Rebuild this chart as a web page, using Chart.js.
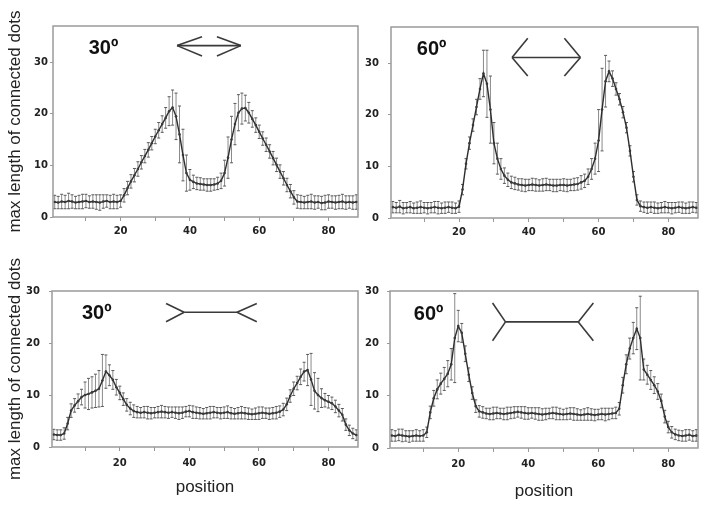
<!DOCTYPE html>
<html>
<head>
<meta charset="utf-8">
<script src="https://cdn.jsdelivr.net/npm/chart.js@4.4.1/dist/chart.umd.min.js"></script>
<style>
  html, body { margin: 0; padding: 0; background: #fff; }
  #wrap { position: relative; width: 706px; height: 506px; overflow: hidden; }
  canvas { position: absolute; }
</style>
</head>
<body>
<div id="wrap">
  <canvas id="c1" width="362" height="240" style="left:0;top:0"></canvas>
  <canvas id="c2" width="340" height="240" style="left:362px;top:0"></canvas>
  <canvas id="c3" width="362" height="266" style="left:0;top:240px"></canvas>
  <canvas id="c4" width="340" height="266" style="left:362px;top:240px"></canvas>
</div>
<script>
// positions along the figure (1..89)
const positions = Array.from({ length: 89 }, (_, i) => i + 1);

// top left: 30 deg, arrow heads
const arrow30Mean = [2.9,2.8,3.0,2.9,3.1,3.0,2.8,2.9,3.0,3.1,2.9,3.0,2.9,2.8,3.0,3.1,2.9,3.0,2.9,3.1,
  4.2,5.6,6.9,8.1,9.3,10.6,11.8,13.0,14.3,15.6,16.8,18.0,19.2,20.5,21.2,
  19.5,16.0,12.0,8.5,7.2,
  6.8,6.5,6.4,6.3,6.2,6.2,6.3,6.5,7.0,
  8.5,11.5,15.0,18.0,20.2,21.0,21.1,
  20.2,19.0,17.8,16.5,15.2,14.0,12.7,11.4,10.1,8.8,7.5,6.2,5.0,3.8,3.0,
  2.9,2.8,2.9,3.0,2.8,2.9,2.7,2.8,3.0,2.9,2.8,2.9,3.0,2.8,2.9,2.8,2.9,3.0];
const arrow30Err = [1.3,1.2,1.4,1.3,1.5,1.3,1.2,1.3,1.4,1.3,1.2,1.3,1.4,1.5,1.3,1.2,1.3,1.4,1.3,1.2,
  1.3,1.3,1.3,1.3,1.4,1.3,1.3,1.4,1.3,1.4,1.5,1.6,2.0,2.8,3.4,
  4.5,5.5,5.0,3.5,2.0,
  1.3,1.2,1.2,1.1,1.2,1.2,1.1,1.2,1.5,
  2.5,4.0,4.5,4.0,3.5,3.0,2.5,
  2.0,1.6,1.4,1.3,1.3,1.3,1.3,1.3,1.3,1.3,1.3,1.3,1.3,1.3,1.3,
  1.3,1.2,1.3,1.4,1.3,1.2,1.3,1.4,1.3,1.2,1.3,1.3,1.4,1.3,1.2,1.3,1.4,1.3];

// top right: 60 deg, arrow heads
const arrow60Mean = [2.1,2.0,2.2,1.9,2.0,2.1,1.9,2.0,2.1,2.0,1.9,2.0,2.1,2.0,1.9,2.0,2.1,2.0,1.9,2.2,
  5.5,10.5,14.5,18.0,21.5,25.0,28.0,26.0,21.0,14.5,11.5,9.5,8.2,7.4,6.9,
  6.7,6.5,6.4,6.3,6.4,6.5,6.4,6.3,6.4,6.5,6.4,6.3,6.3,6.4,6.4,6.3,6.4,6.5,6.6,6.9,
  7.2,8.0,9.5,11.5,15.0,21.0,26.5,28.4,27.0,25.0,23.0,20.5,17.5,13.0,8.0,3.5,2.3,
  2.1,2.0,2.1,2.0,1.9,2.0,2.1,2.0,1.9,2.0,2.1,2.0,1.9,2.0,2.1,2.0,2.0];
const arrow60Err = [1.1,1.0,1.2,1.1,1.0,1.1,1.0,1.1,1.2,1.0,1.1,1.0,1.1,1.2,1.0,1.1,1.0,1.1,1.0,1.1,
  1.0,1.0,1.2,1.2,1.5,2.0,4.5,6.5,6.5,4.0,3.0,2.0,1.5,1.3,1.2,
  1.2,1.1,1.2,1.2,1.1,1.2,1.2,1.1,1.2,1.2,1.1,1.2,1.2,1.1,1.2,1.2,1.1,1.2,1.2,1.3,
  1.3,1.5,2.0,3.0,6.0,8.0,5.0,2.0,1.5,1.2,1.1,1.1,1.0,1.0,1.0,1.0,1.0,
  1.0,1.1,1.0,1.1,1.0,1.0,1.1,1.0,1.1,1.0,1.0,1.1,1.0,1.1,1.0,1.0,1.1];

// bottom left: 30 deg, fins
const fin30Mean = [2.4,2.3,2.3,2.6,4.5,7.0,8.0,8.8,9.6,10.0,10.2,10.5,10.8,11.2,12.8,14.5,13.8,12.9,11.5,10.4,9.2,8.1,7.4,6.9,
  6.7,6.6,6.7,6.6,6.5,6.6,6.7,6.8,6.7,6.6,6.7,6.6,6.5,6.6,6.8,6.9,6.7,6.6,6.5,6.4,
  6.5,6.6,6.7,6.6,6.5,6.6,6.7,6.5,6.4,6.5,6.6,6.5,6.4,6.3,6.4,6.5,6.6,6.5,6.4,6.5,6.6,6.8,
  7.2,8.2,9.8,11.2,12.3,13.5,14.5,14.8,13.0,10.8,10.0,9.4,9.0,8.7,8.4,7.8,7.0,6.2,4.3,3.2,2.6,2.3,2.2];
const fin30Err = [1.0,1.0,1.0,1.1,1.2,1.3,1.3,1.4,1.5,2.5,3.0,3.0,3.2,3.5,5.0,3.2,2.0,1.8,1.5,1.3,1.2,1.2,1.2,1.2,
  1.1,1.0,1.1,1.2,1.1,1.0,1.1,1.2,1.1,1.1,1.0,1.1,1.2,1.1,1.0,1.1,1.2,1.1,1.1,1.0,
  1.1,1.2,1.1,1.0,1.1,1.1,1.2,1.1,1.0,1.1,1.2,1.1,1.1,1.0,1.1,1.2,1.1,1.0,1.1,1.1,1.2,1.1,
  1.2,1.2,1.2,1.3,1.3,1.5,1.8,3.0,5.0,3.5,3.2,1.8,1.3,1.2,1.2,1.2,1.2,1.2,1.1,1.0,1.0,1.0,1.0];

// bottom right: 60 deg, fins
const fin60Mean = [2.4,2.3,2.5,2.4,2.3,2.2,2.3,2.4,2.3,2.4,
  3.0,6.8,9.5,11.2,12.3,13.2,14.2,16.0,21.0,23.3,22.0,18.0,14.0,10.5,8.0,7.0,
  6.8,6.6,6.5,6.6,6.7,6.6,6.5,6.6,6.7,6.8,6.9,6.8,6.7,6.6,6.7,6.6,6.5,6.4,6.5,6.6,
  6.7,6.6,6.5,6.4,6.5,6.6,6.5,6.4,6.3,6.4,6.5,6.4,6.3,6.4,6.5,6.4,6.5,6.6,6.7,
  7.5,12.0,16.0,19.0,21.0,22.8,21.0,15.0,14.0,13.0,12.0,10.8,9.0,6.0,4.0,3.0,2.6,
  2.4,2.3,2.4,2.5,2.3,2.4,2.3];
const fin60Err = [1.1,1.0,1.1,1.2,1.0,1.1,1.0,1.1,1.0,1.1,
  1.0,1.2,1.5,1.8,2.0,2.2,2.5,3.0,8.5,3.0,1.8,1.5,1.3,1.2,1.2,1.1,
  1.1,1.0,1.1,1.2,1.1,1.0,1.1,1.2,1.1,1.1,1.0,1.1,1.2,1.1,1.0,1.1,1.2,1.1,1.1,1.0,
  1.1,1.2,1.1,1.0,1.1,1.1,1.2,1.1,1.0,1.1,1.2,1.1,1.1,1.0,1.1,1.2,1.1,1.0,1.1,
  1.2,1.5,1.8,2.0,3.0,4.0,8.0,2.0,1.8,1.8,1.6,1.5,1.3,1.2,1.1,1.1,1.0,
  1.0,1.0,1.1,1.0,1.0,1.1,1.0];

const xTickLabels = [20, 40, 60, 80];

// glyphs drawn in each panel, in data units: [x1, y1, x2, y2]
const arrow30Shape = [[36.3,33.2,54.7,33.2],[36.3,33.2,43.5,34.9],[36.3,33.2,43.5,31.2],[54.7,33.2,47.8,34.9],[54.7,33.2,47.8,31.2]];
const arrow60Shape = [[35.2,31.1,54.8,31.1],[35.2,31.1,39.7,34.8],[35.2,31.1,39.7,27.5],[54.8,31.1,50.2,34.8],[54.8,31.1,50.2,27.5]];
const fin30Shape = [[38.5,25.9,53.7,25.9],[38.5,25.9,33.3,27.6],[38.5,25.9,33.3,24.1],[53.7,25.9,59.4,27.6],[53.7,25.9,59.4,24.1]];
const fin60Shape = [[33.5,24.1,54.3,24.1],[33.5,24.1,29.8,27.7],[33.5,24.1,29.8,20.5],[54.3,24.1,58.6,27.7],[54.3,24.1,58.6,20.5]];

const tickFont = { family: '"DejaVu Sans"', size: 10, weight: 'bold' };
const titleFont = { family: '"Liberation Sans", Arial', size: 17 };

const errorBars = {
  id: 'errorBars',
  beforeDatasetsDraw(chart) {
    const { ctx, chartArea: a, scales: { y } } = chart;
    const ds = chart.data.datasets[0];
    const pts = chart.getDatasetMeta(0).data;
    ctx.save();
    ctx.beginPath();
    ctx.rect(a.left, a.top, a.width, a.height);
    ctx.clip();
    ctx.lineWidth = 1;
    pts.forEach((p, i) => {
      const m = ds.data[i].y, e = ds.errors[i];
      const t = y.getPixelForValue(m + e), b = y.getPixelForValue(m - e);
      ctx.strokeStyle = '#8a8a8a';
      ctx.beginPath();
      ctx.moveTo(p.x, t); ctx.lineTo(p.x, b);
      ctx.stroke();
      ctx.strokeStyle = '#5a5a5a';
      ctx.beginPath();
      ctx.moveTo(p.x - 1.5, t); ctx.lineTo(p.x + 1.5, t);
      ctx.moveTo(p.x - 1.5, b); ctx.lineTo(p.x + 1.5, b);
      ctx.stroke();
    });
    ctx.restore();
  }
};

const frameAndNotes = {
  id: 'notes',
  afterDatasetsDraw(chart, args, opts) {
    const { ctx, chartArea: a, scales: { x, y } } = chart;
    ctx.save();
    ctx.strokeStyle = '#9a9a9a';
    ctx.lineWidth = 1.5;
    ctx.strokeRect(a.left, a.top, a.width, a.height);
    ctx.strokeStyle = '#3a3a3a';
    ctx.lineWidth = 1.6;
    opts.shape.forEach(s => {
      ctx.beginPath();
      ctx.moveTo(x.getPixelForValue(s[0]), y.getPixelForValue(s[1]));
      ctx.lineTo(x.getPixelForValue(s[2]), y.getPixelForValue(s[3]));
      ctx.stroke();
    });
    ctx.fillStyle = '#111';
    ctx.font = 'bold 20px "Liberation Sans", Arial';
    ctx.textBaseline = 'middle';
    ctx.fillText(opts.label, x.getPixelForValue(opts.at[0]), y.getPixelForValue(opts.at[1]));
    ctx.restore();
  }
};

function panel(id, mean, err, o) {
  new Chart(document.getElementById(id), {
    type: 'line',
    data: {
      datasets: [{
        data: positions.map((p, i) => ({ x: p, y: mean[i] })),
        errors: err,
        borderColor: '#2e2e2e',
        borderWidth: 1.4,
        pointRadius: 1.3,
        pointBackgroundColor: '#3a3a3a',
        pointBorderWidth: 0,
        tension: 0
      }]
    },
    options: {
      responsive: false,
      animation: false,
      layout: { padding: { top: o.top, right: o.right, left: 0, bottom: 0 } },
      plugins: {
        legend: { display: false },
        tooltip: { enabled: false },
        notes: { shape: o.shape, label: o.label, at: o.at }
      },
      scales: {
        x: {
          type: 'linear',
          min: 0.5,
          max: 88.5,
          afterFit: s => { s.height = o.xh; },
          border: { display: false },
          grid: { drawOnChartArea: false, tickLength: 4, color: '#999' },
          ticks: {
            stepSize: 10, includeBounds: false, autoSkip: false, maxRotation: 0,
            padding: o.xpad, font: tickFont, color: '#222',
            callback: v => xTickLabels.includes(v) ? v : ''
          },
          title: { display: o.xTitle, text: 'position', font: titleFont, color: '#222', padding: o.xtp }
        },
        y: {
          min: 0,
          max: o.yMax,
          afterFit: s => { s.width = o.yw; },
          border: { display: false },
          grid: { drawOnChartArea: false, tickLength: 3, color: '#999' },
          ticks: { stepSize: 10, includeBounds: false, padding: o.ypad, font: tickFont, color: '#222' },
          title: { display: o.yTitle, text: 'max length of connected dots', font: titleFont, color: '#222', padding: 5 }
        }
      }
    },
    plugins: [errorBars, frameAndNotes]
  });
}

panel('c1', arrow30Mean, arrow30Err, { top: 26, right: 2, xh: 23, yw: 53, yMax: 37, xpad: 4, ypad: 2, xTitle: false, yTitle: true, xtp: 0, shape: arrow30Shape, label: '30º', at: [10.8, 32.7] });
panel('c2', arrow60Mean, arrow60Err, { top: 27, right: 3, xh: 22, yw: 29, yMax: 37, xpad: 4, ypad: 9, xTitle: false, yTitle: false, xtp: 0, shape: arrow60Shape, label: '60º', at: [7.9, 32.6] });
panel('c3', fin30Mean, fin30Err, { top: 51, right: 2, xh: 59, yw: 52, yMax: 30, xpad: 6, ypad: 9, xTitle: true, yTitle: true, xtp: 8, shape: fin30Shape, label: '30º', at: [9.1, 25.6] });
panel('c4', fin60Mean, fin60Err, { top: 51, right: 3, xh: 58, yw: 28, yMax: 30, xpad: 6, ypad: 8, xTitle: true, yTitle: false, xtp: 4, shape: fin60Shape, label: '60º', at: [7.3, 25.6] });
</script>
</body>
</html>
